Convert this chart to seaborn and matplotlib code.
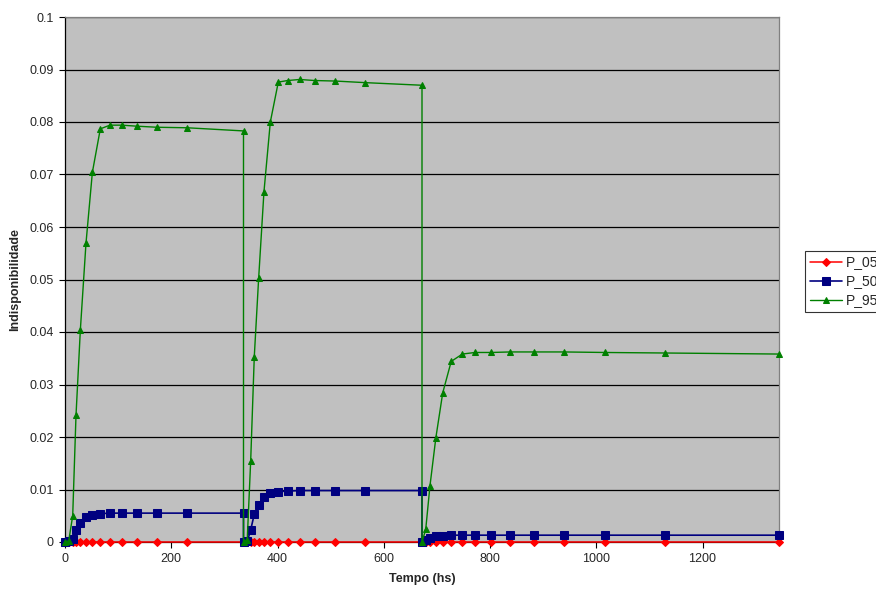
import matplotlib
matplotlib.use("Agg")
import matplotlib.pyplot as plt
import seaborn as sns
import pandas as pd
import numpy as np

# time (hours); the repeated times mark the drop back to zero after each test
tempo = [0, 7, 14.5, 20.7, 28.9, 39.5, 51.5, 66.5, 84.7, 106.7, 135.6, 173, 230, 336,
         336, 343, 349.5, 356.3, 364.5, 374.5, 386.5, 401.5, 419, 441.7, 470, 508.8, 564.6, 672,
         672, 679, 687, 698, 711, 727, 748, 772, 802, 838, 882, 939, 1016, 1129, 1344]

p05 = [0.0] * 43

p50 = [0, 0.0001, 0.0005, 0.0023, 0.0037, 0.0048, 0.0052, 0.0054, 0.0055, 0.0055, 0.0055, 0.0055, 0.0055, 0.0055,
       0, 0.0001, 0.0023, 0.0053, 0.0070, 0.0085, 0.0093, 0.0096, 0.0097, 0.0098, 0.0098, 0.0098, 0.0098, 0.0098,
       0, 0.0004, 0.0008, 0.0011, 0.0012, 0.0013, 0.0013, 0.0013, 0.0013, 0.0013, 0.0013, 0.0013, 0.0013, 0.0013, 0.0013]

p95 = [0, 0.0002, 0.0050, 0.0241, 0.0404, 0.0569, 0.0704, 0.0787, 0.0794, 0.0794, 0.0792, 0.0790, 0.0789, 0.0783,
       0, 0.0004, 0.0154, 0.0353, 0.0502, 0.0667, 0.0800, 0.0876, 0.0879, 0.0881, 0.0879, 0.0878, 0.0875, 0.0870,
       0, 0.0024, 0.0107, 0.0198, 0.0284, 0.0344, 0.0358, 0.0361, 0.0361, 0.0362, 0.0362, 0.0362, 0.0361, 0.0360, 0.0358]

series_names = ["P_05(t)", "P_50(t)", "P_95(t)"]
x_ticks = [0, 200, 400, 600, 800, 1000, 1200]
y_ticks = [0, 0.01, 0.02, 0.03, 0.04, 0.05, 0.06, 0.07, 0.08, 0.09, 0.1]
y_ticklabels = ["0", "0.01", "0.02", "0.03", "0.04", "0.05", "0.06", "0.07", "0.08", "0.09", "0.1"]

sns.set_style("white")
plt.rcParams['font.family'] = ['Liberation Sans', 'DejaVu Sans']

fig = plt.figure(figsize=(8.76, 5.91), dpi=100)
ax = fig.add_axes([65/876, 1-542/591, (779-65)/876, (542-17)/591])
ax.set_facecolor("#C0C0C0")

df = pd.DataFrame({"t": tempo, "p05": p05, "p50": p50, "p95": p95})

styles = [
    ("p05", "#FF0000", "D", 4.0, 1.1),
    ("p50", "#000080", "s", 5.5, 1.2),
    ("p95", "#008000", "^", 4.5, 1.0),
]
for (col, color, mk, ms, lw), name in zip(styles, series_names):
    sns.lineplot(data=df, x="t", y=col, ax=ax, sort=False, estimator=None,
                 color=color, marker=mk, markersize=ms, linewidth=lw,
                 markeredgecolor=color, label=name, zorder=3, clip_on=False)

ax.set_xlim(0, 1344)
ax.set_ylim(0, 0.1)
ax.set_xticks(x_ticks)
ax.set_xticklabels([str(v) for v in x_ticks], fontsize=9)
ax.set_yticks(y_ticks)
ax.set_yticklabels(y_ticklabels, fontsize=9)
ax.yaxis.grid(True, color="black", linewidth=0.9)
ax.set_axisbelow(True)
ax.tick_params(axis="both", direction="out", length=4, width=0.8, color="black",
               bottom=True, left=True, pad=4)

for s in ["left", "bottom"]:
    ax.spines[s].set_color("black")
    ax.spines[s].set_linewidth(0.9)
for s in ["top", "right"]:
    ax.spines[s].set_color("#808080")
    ax.spines[s].set_linewidth(0.9)

ax.set_xlabel("Tempo (hs)", fontsize=9, fontweight="bold", labelpad=6)
ax.set_ylabel("Indisponibilidade", fontsize=9, fontweight="bold", labelpad=6)

ax.legend_.remove()
handles, labels = ax.get_legend_handles_labels()
leg = fig.legend(handles, labels, loc="upper left", bbox_to_anchor=(805/876, 1-251/591),
                 frameon=True, fancybox=False, edgecolor="black", fontsize=10,
                 handlelength=2.3, borderpad=0.35, labelspacing=0.35, handletextpad=0.3,
                 borderaxespad=0)
leg.get_frame().set_linewidth(0.8)

fig.savefig("out.png", dpi=100)
